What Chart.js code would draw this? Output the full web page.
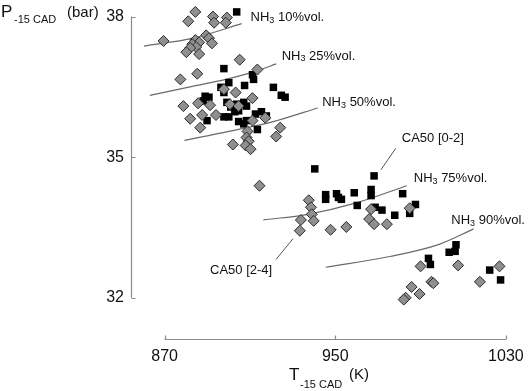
<!DOCTYPE html>
<html>
<head>
<meta charset="utf-8">
<script src="https://cdn.jsdelivr.net/npm/chart.js@4/dist/chart.umd.min.js"></script>
<style>
  html, body { margin: 0; padding: 0; background: #fff; }
  #c { display: block; }
</style>
</head>
<body>
<canvas id="c" width="532" height="391"></canvas>
<script>
// ---- data ----
const xTicks = [870, 950, 1030];
const yTicks = [32, 35, 38];

// CA50 [2-4] samples (grey diamonds): temperature (K), pressure (bar)
const diamondT = [869.5, 884.4, 881.1, 892.7, 893.2, 899.2, 898.7, 889.5, 890.8, 892.2,
  884.4, 886.2, 883.0, 884.8, 882.0, 880.2, 886.2, 905.2, 885.3, 877.4,
  913.5, 897.8, 903.3, 911.2, 878.8, 885.7, 891.3, 900.6, 904.7, 887.6,
  894.1, 882.0, 886.7, 911.2, 917.2, 908.9, 908.4, 909.4, 908.0, 910.3,
  902.0, 924.2, 922.3, 914.5, 937.6, 938.6, 939.0, 939.9, 933.9, 933.4,
  947.8, 955.2, 966.8, 965.9, 968.2, 974.2, 984.9, 990.0, 1007.6, 995.1,
  996.0, 985.8, 989.5, 983.0, 982.1, 1027.0, 1017.8];
const diamondP = [37.48, 38.10, 37.90, 38.00, 37.87, 37.98, 37.87, 37.60, 37.54, 37.43,
  37.50, 37.45, 37.41, 37.35, 37.33, 37.24, 37.20, 37.08, 36.78, 36.66,
  36.87, 36.45, 36.38, 36.26, 36.09, 36.15, 36.11, 36.13, 36.09, 35.90,
  35.90, 35.82, 35.63, 35.78, 35.84, 35.55, 35.42, 35.34, 35.25, 35.17,
  35.27, 35.63, 35.44, 34.39, 34.08, 33.93, 33.78, 33.64, 33.66, 33.43,
  33.45, 33.51, 33.89, 33.68, 33.57, 33.57, 33.91, 32.67, 32.69, 32.34,
  32.31, 32.23, 32.08, 32.00, 31.96, 32.67, 32.34];

// CA50 [0-2] samples (black squares)
const squareT = [903.8, 897.8, 911.2, 911.7, 907.5, 921.0, 924.7, 926.5, 896.4, 897.8,
  900.1, 889.0, 890.8, 888.1, 899.2, 901.0, 903.8, 907.1, 908.4, 904.7,
  897.8, 900.1, 889.9, 904.7, 907.1, 908.4, 912.6, 915.4, 917.7, 913.5,
  902.9, 940.4, 945.5, 945.5, 950.6, 951.5, 952.9, 958.9, 960.3, 968.2,
  966.8, 966.8, 968.7, 971.9, 977.9, 981.6, 987.6, 984.9, 1006.6, 1003.4,
  1006.2, 993.7, 994.6, 1022.4, 1027.5];
const squareP = [38.10, 36.89, 36.76, 36.66, 36.53, 36.49, 36.32, 36.28, 36.49, 36.38,
  36.59, 36.30, 36.28, 36.20, 36.17, 36.07, 36.13, 36.17, 36.09, 35.99,
  35.86, 35.86, 35.78, 35.76, 35.71, 35.78, 35.92, 35.97, 35.88, 35.59,
  35.97, 34.75, 34.20, 34.10, 34.22, 34.14, 34.10, 34.24, 33.97, 34.60,
  34.31, 34.18, 33.93, 33.87, 33.76, 34.22, 33.99, 33.80, 33.13, 32.97,
  32.99, 32.84, 32.71, 32.59, 32.38];

// trend curves per NH3 fraction
const nh3_10_T = [860.3, 883.4, 906.1];
const nh3_10_P = [37.37, 37.54, 37.85];
const nh3_25_T = [863.1, 883.0, 898.7, 912.6, 922.3];
const nh3_25_P = [36.32, 36.51, 36.66, 36.83, 36.99];
const nh3_50_T = [879.3, 900.1, 920.9, 941.8];
const nh3_50_P = [35.36, 35.55, 35.76, 36.05];
const nh3_75_T = [916.3, 937.1, 960.3, 983.5];
const nh3_75_P = [33.66, 33.78, 34.03, 34.39];
const nh3_90_T = [945.5, 975.6, 998.7, 1014.9];
const nh3_90_P = [32.65, 32.88, 33.14, 33.47];

// leader lines for the CA50 labels
const lead02_T = [978.4, 971.4];
const lead02_P = [35.19, 34.73];
const lead24_T = [930.2, 922.3];
const lead24_P = [33.26, 32.82];

// annotation labels ('NH|' = NH with subscript 3)
const labelText = ['NH|10%vol.', 'NH|25%vol.', 'NH|50%vol.', 'CA50 [0-2]', 'NH|75%vol.', 'NH|90%vol.', 'CA50 [2-4]'];
const labelT = [910.3, 924.9, 943.9, 981.2, 986.8, 1004.4, 891.3];
const labelP = [37.98, 37.16, 36.17, 35.40, 34.54, 33.64, 32.59];

// ---- build ----
const FONT = '"Liberation Sans", Arial, Helvetica, sans-serif';
const pts = (xs, ys) => xs.map((v, i) => ({ x: v, y: ys[i] }));
const curve = (xs, ys) => ({
  type: 'scatter', data: pts(xs, ys), showLine: true, pointRadius: 0,
  borderColor: '#6a6a6a', borderWidth: 1.2, cubicInterpolationMode: 'monotone', clip: false
});
const leader = (xs, ys) => ({
  type: 'scatter', data: pts(xs, ys), showLine: true, pointRadius: 0,
  borderColor: '#555', borderWidth: 1, clip: false
});

const decor = {
  id: 'decor',
  afterDraw(chart) {
    const ctx = chart.ctx;
    const xs = chart.scales.x, ys = chart.scales.y;
    const ca = chart.chartArea;
    ctx.save();
    // spines
    ctx.strokeStyle = '#8a8a8a';
    ctx.lineWidth = 1.2;
    const lx = Math.round(ca.left) + 0.5;
    const by = Math.round(ca.bottom) + 0.5;
    ctx.beginPath();
    ctx.moveTo(lx, ys.getPixelForValue(yTicks[yTicks.length - 1]));
    ctx.lineTo(lx, ys.getPixelForValue(yTicks[0]));
    yTicks.forEach(v => {
      const p = Math.round(ys.getPixelForValue(v)) + 0.5;
      ctx.moveTo(lx, p); ctx.lineTo(lx + 4, p);
    });
    ctx.moveTo(xs.getPixelForValue(xTicks[0]), by);
    ctx.lineTo(xs.getPixelForValue(xTicks[xTicks.length - 1]), by);
    xTicks.forEach(v => {
      const p = Math.round(xs.getPixelForValue(v)) + 0.5;
      ctx.moveTo(p, by); ctx.lineTo(p, by - 4);
    });
    ctx.stroke();

    // annotation labels
    ctx.fillStyle = '#111';
    ctx.textBaseline = 'middle';
    labelText.forEach((t, i) => {
      let x = xs.getPixelForValue(labelT[i]);
      const y = ys.getPixelForValue(labelP[i]);
      if (t.indexOf('|') >= 0) {
        const rest = t.split('|')[1];
        ctx.font = '13px ' + FONT;
        ctx.fillText('NH', x, y); x += ctx.measureText('NH').width;
        ctx.font = '9px ' + FONT;
        ctx.fillText('3', x, y + 3); x += ctx.measureText('3').width;
        ctx.font = '13px ' + FONT;
        ctx.fillText(' ' + rest, x, y);
      } else {
        ctx.font = '13px ' + FONT;
        ctx.fillText(t, x, y);
      }
    });

    // axis titles
    ctx.textBaseline = 'alphabetic';
    ctx.font = '17px ' + FONT;
    ctx.fillText('P', 1, 17);
    ctx.font = '11px ' + FONT;
    ctx.fillText('-15 CAD', 14, 23);
    ctx.font = '15px ' + FONT;
    ctx.fillText('(bar)', 67, 17);

    ctx.font = '17px ' + FONT;
    ctx.fillText('T', 289, 380);
    ctx.font = '11px ' + FONT;
    ctx.fillText('-15 CAD', 300, 388);
    ctx.font = '15px ' + FONT;
    ctx.fillText('(K)', 349, 379);
    ctx.restore();
  }
};

new Chart(document.getElementById('c'), {
  type: 'scatter',
  data: {
    datasets: [
      { label: 'CA50 [2-4]', data: pts(diamondT, diamondP), pointStyle: 'rectRot', pointRadius: 5.5,
        backgroundColor: '#8f8f8f', borderColor: '#2a2a2a', borderWidth: 1, clip: false },
      { label: 'CA50 [0-2]', data: pts(squareT, squareP), pointStyle: 'rect', pointRadius: 5.3,
        backgroundColor: '#000', borderColor: '#000', borderWidth: 0, clip: false },
      curve(nh3_10_T, nh3_10_P),
      curve(nh3_25_T, nh3_25_P),
      curve(nh3_50_T, nh3_50_P),
      curve(nh3_75_T, nh3_75_P),
      curve(nh3_90_T, nh3_90_P),
      leader(lead02_T, lead02_P),
      leader(lead24_T, lead24_P)
    ]
  },
  options: {
    responsive: false,
    animation: false,
    devicePixelRatio: 1,
    layout: { padding: { top: 11, right: 10, left: 0, bottom: 0 } },
    plugins: { legend: { display: false }, tooltip: { enabled: false } },
    scales: {
      x: {
        type: 'linear', min: 854.25, max: 1035.56,
        afterBuildTicks: s => { s.ticks = xTicks.map(v => ({ value: v })); },
        afterFit: s => { s.height = 52; },
        grid: { display: false, drawTicks: false },
        border: { display: false },
        ticks: { font: { family: FONT, size: 16 }, color: '#111', padding: 8, maxRotation: 0, autoSkip: false,
                 callback: v => String(v) }
      },
      y: {
        type: 'linear', min: 31.119, max: 38,
        afterBuildTicks: s => { s.ticks = yTicks.map(v => ({ value: v })); },
        afterFit: s => { s.width = 131; },
        grid: { display: false, drawTicks: false },
        border: { display: false },
        ticks: { font: { family: FONT, size: 16 }, color: '#111', padding: 7, autoSkip: false,
                 callback: v => String(v) }
      }
    }
  },
  plugins: [decor]
});
</script>
</body>
</html>
